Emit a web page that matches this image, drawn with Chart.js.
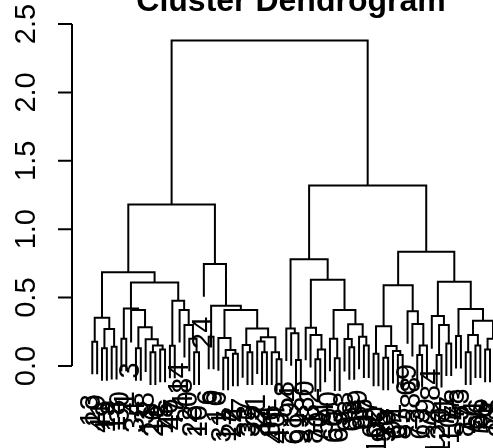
<!DOCTYPE html>
<html><head><meta charset="utf-8">
<script src="https://cdn.jsdelivr.net/npm/chart.js@4.4.1/dist/chart.umd.min.js"></script>
<style>html,body{margin:0;padding:0;background:#fff;overflow:hidden}canvas{display:block}</style>
</head><body>
<canvas id="c" width="493" height="448"></canvas>
<script>
// Leaf labels in dendrogram order (left to right)
const leafLabels = [
  "13","29","41","19","12","18","30","1","3","34","5","38","11","26","2","15","46","47","14","48",
  "20","28","10","24","6","9","16","31","17","22","4","7","33","35","21","37","44","36","40","43",
  "58","94","61","99","80","82","81","70","54","90","60","65","83","93","68","89","96","97","62","100",
  "95","56","91","67","85","69","88","73","63","79","84","134","120","71","107","78","53","87","77","51",
  "66","76","59","75","98","86"
];
// Height at which leaf i and leaf i+1 are joined (cophenetic height of neighbours)
const mergeHeights = [
  0.178,0.353,0.13,0.27,0.14,0.685,0.2,0.42,0.41,0.13,
  0.283,0.195,0.1,0.15,0.12,0.61,0.148,0.477,0.41,0.3,
  0.2,0.1,1.18,0.745,0.214,0.44,0.204,0.06,0.117,0.09,
  0.41,0.153,0.1,0.275,0.18,0.1,0.21,0.1,0.05,2.38,
  0.275,0.24,0.044,0.78,0.28,0.227,0.05,0.12,0.63,0.2,
  0.056,0.41,0.197,0.137,0.305,0.214,0.15,1.32,0.09,0.29,
  0.06,0.146,0.11,0.08,0.59,0.4,0.307,0.08,0.15,0.835,
  0.365,0.08,0.3,0.165,0.616,0.22,0.417,0.1,0.227,0.15,
  0.33,0.12,0.2,0.15,0.1
];
const yTicks = [0, 0.5, 1.0, 1.5, 2.0, 2.5];
const yTickLabels = ["0.0","0.5","1.0","1.5","2.0","2.5"];
const titleText = "Cluster Dendrogram";

function build(a, b) {
  if (a === b) return {leaf: true, idx: a, x: a, h: 0};
  let k = a;
  for (let i = a; i < b; i++) if (mergeHeights[i] > mergeHeights[k]) k = i;
  const L = build(a, k), R = build(k + 1, b);
  return {leaf: false, left: L, right: R, x: (L.x + R.x) / 2, h: mergeHeights[k]};
}
const root = build(0, leafLabels.length - 1);
const hang = 0.1 * root.h;
const segs = [];
const tips = [];
(function walk(n) {
  if (n.leaf) return;
  const lb = n.left.leaf ? n.h - hang : n.left.h;
  const rb = n.right.leaf ? n.h - hang : n.right.h;
  if (n.left.leaf) tips.push({x: n.left.x, y: lb, label: leafLabels[n.left.idx]});
  if (n.right.leaf) tips.push({x: n.right.x, y: rb, label: leafLabels[n.right.idx]});
  segs.push({x: n.left.x, y: lb}, {x: n.left.x, y: n.h}, {x: n.right.x, y: n.h}, {x: n.right.x, y: rb}, {x: n.right.x, y: null});
  walk(n.left); walk(n.right);
})(root);

const FONT = '"Liberation Sans", Arial, Helvetica, sans-serif';

const decor = {
  id: 'decor',
  afterDatasetsDraw(chart) {
    const ctx = chart.ctx, xs = chart.scales.x, ys = chart.scales.y;
    ctx.save();
    ctx.strokeStyle = '#000'; ctx.fillStyle = '#000'; ctx.lineWidth = 2;
    // y axis
    const ax = 72;
    ctx.beginPath();
    ctx.moveTo(ax, ys.getPixelForValue(yTicks[0]));
    ctx.lineTo(ax, ys.getPixelForValue(yTicks[yTicks.length - 1]));
    yTicks.forEach(v => { const p = ys.getPixelForValue(v); ctx.moveTo(ax, p); ctx.lineTo(ax - 14, p); });
    ctx.stroke();
    ctx.font = '29px ' + FONT;
    ctx.textAlign = 'center'; ctx.textBaseline = 'alphabetic';
    yTicks.forEach((v, i) => {
      const p = ys.getPixelForValue(v);
      ctx.save(); ctx.translate(35, p); ctx.rotate(-Math.PI / 2);
      ctx.fillText(yTickLabels[i], 0, 0); ctx.restore();
    });
    // leaf labels
    ctx.textAlign = 'right'; ctx.textBaseline = 'middle';
    tips.forEach(t => {
      const px = xs.getPixelForValue(t.x), py = ys.getPixelForValue(t.y) + 20;
      ctx.save(); ctx.translate(px, py); ctx.rotate(-Math.PI / 2);
      ctx.fillText(t.label, 0, 0); ctx.restore();
    });
    // title
    ctx.font = 'bold 32px ' + FONT;
    ctx.textAlign = 'center'; ctx.textBaseline = 'alphabetic';
    ctx.fillText(titleText, 291, 11);
    ctx.restore();
  }
};

new Chart(document.getElementById('c'), {
  type: 'scatter',
  data: { datasets: [{
    data: segs, showLine: true, spanGaps: false, borderColor: '#000', borderWidth: 2,
    pointRadius: 0, pointHoverRadius: 0, tension: 0, borderJoinStyle: 'miter', borderCapStyle: 'butt', clip: false
  }]},
  options: {
    responsive: false, devicePixelRatio: 1, animation: false, events: [],
    layout: { padding: { left: 72, right: 0, top: 0, bottom: 0 } },
    plugins: { legend: { display: false }, title: { display: false }, tooltip: { enabled: false } },
    scales: {
      x: { type: 'linear', display: false, min: -4.1856, max: 82.618 },
      y: { type: 'linear', display: false, min: -0.59942, max: 2.67548 }
    }
  },
  plugins: [decor]
});
</script>
</body></html>
